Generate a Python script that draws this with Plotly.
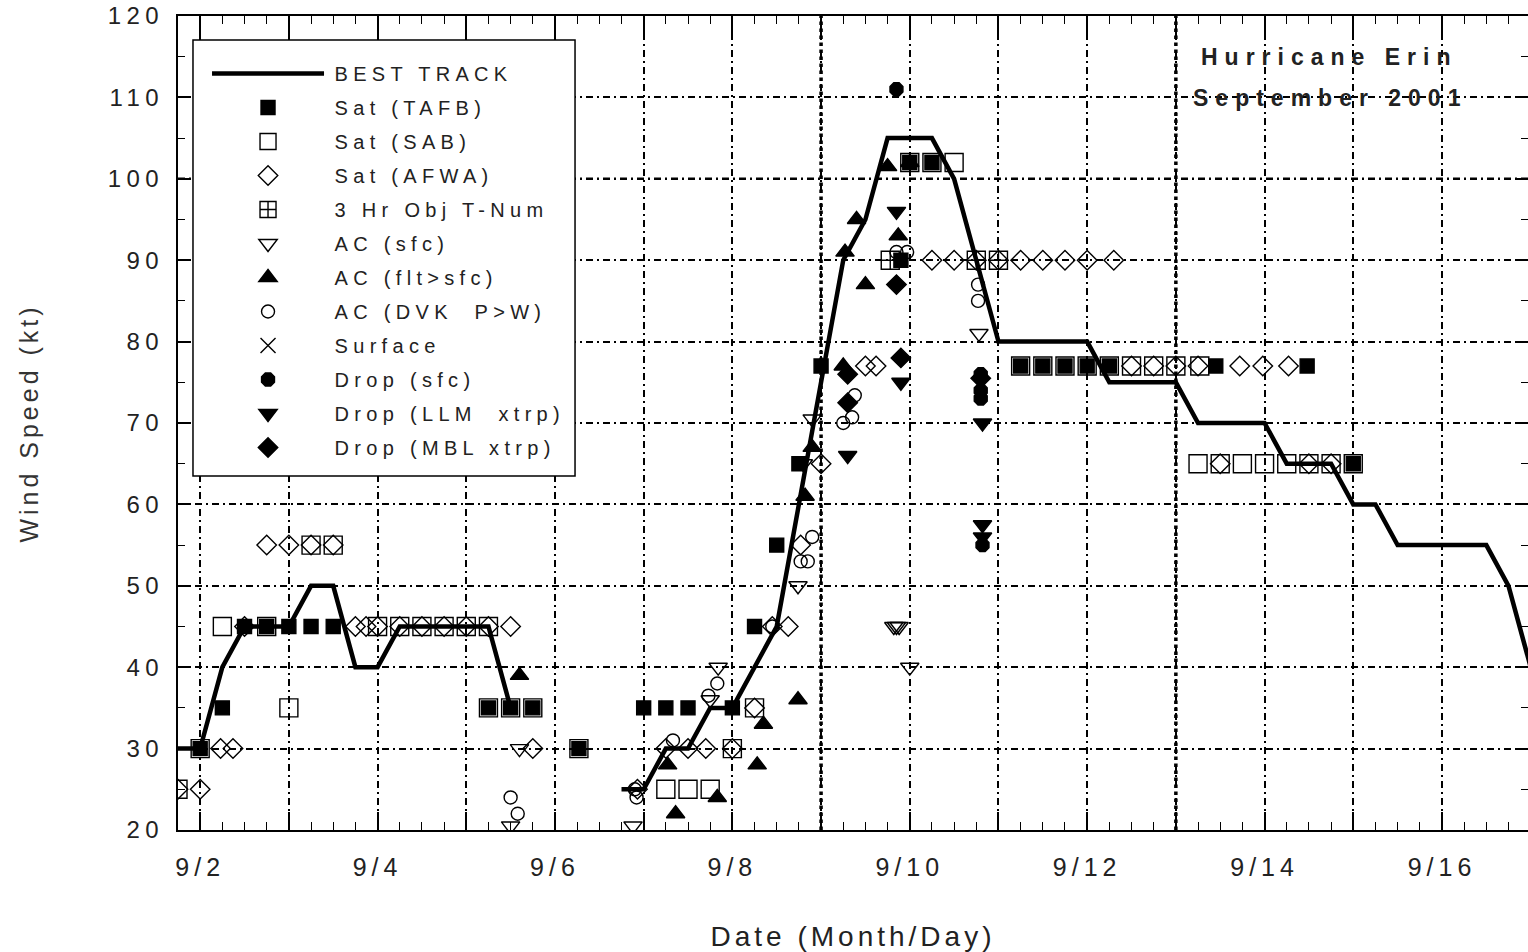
import plotly.graph_objects as go

# ---------------- data (day of September, wind speed in kt) ----------------
bt_day = [1.5, 2.0, 2.25, 2.5, 3.0, 3.25, 3.5, 3.75, 4.0, 4.25, 5.25, 5.5, None,
          6.75, 7.0, 7.25, 7.5, 7.75, 8.0, 8.5, 8.75, 9.0, 9.25, 9.5, 9.75, 10.25,
          10.5, 10.75, 11.0, 12.0, 12.25, 13.0, 13.25, 14.0, 14.25, 14.75, 15.0,
          15.25, 15.5, 16.5, 16.75, 17.0]
bt_kt = [30, 30, 40, 45, 45, 50, 50, 40, 40, 45, 45, 35, None,
         25, 25, 30, 30, 35, 35, 45, 60, 75, 90, 95, 105, 105,
         100, 90, 80, 80, 75, 75, 70, 70, 65, 65, 60,
         60, 55, 55, 50, 40]

tafb_day = [2.0, 2.25, 2.5, 2.75, 3.0, 3.25, 3.5, 5.25, 5.5, 5.75, 6.27, 7.0, 7.25,
            7.5, 8.0, 8.25, 8.5, 8.75, 9.0, 9.9, 10.0, 10.25, 11.25, 11.5, 11.75,
            12.0, 12.25, 13.45, 14.48, 15.0]
tafb_kt = [30, 35, 45, 45, 45, 45, 45, 35, 35, 35, 30, 35, 35,
           35, 35, 45, 55, 65, 77, 90, 102, 102, 77, 77, 77,
           77, 77, 77, 77, 65]

sab_day = [1.75, 2.0, 2.25, 2.75, 3.0, 3.25, 3.5, 4.0, 4.25, 4.5, 4.75, 5.0, 5.25,
           5.25, 5.5, 5.75, 6.27, 7.25, 7.5, 7.75, 8.0, 8.25, 10.0, 10.25, 10.5,
           11.25, 11.5, 11.75, 12.0, 12.25, 12.5, 12.75, 13.0, 13.27,
           13.25, 13.5, 13.75, 14.0, 14.25, 14.5, 14.75, 15.0]
sab_kt = [25, 30, 45, 45, 35, 55, 55, 45, 45, 45, 45, 45, 45,
          35, 35, 35, 30, 25, 25, 25, 30, 35, 102, 102, 102,
          77, 77, 77, 77, 77, 77, 77, 77, 77,
          65, 65, 65, 65, 65, 65, 65, 65]

afwa_day = [1.75, 2.0, 2.23, 2.37, 2.5, 2.75, 3.0, 3.25, 3.5, 3.75, 3.87, 4.0, 4.25,
            4.5, 4.75, 5.0, 5.25, 5.5, 5.75, 6.93, 7.25, 7.5, 7.7, 8.0, 8.25, 8.45,
            8.63, 8.77, 9.0, 9.5, 9.62, 10.25, 10.5, 10.75, 11.0, 11.25, 11.5,
            11.75, 12.0, 12.3, 12.5, 12.75, 13.0, 13.25, 13.72, 13.98, 14.27,
            13.5, 14.5, 14.75]
afwa_kt = [25, 25, 30, 30, 45, 55, 55, 55, 55, 45, 45, 45, 45,
           45, 45, 45, 45, 45, 30, 25, 30, 30, 30, 30, 35, 45,
           45, 55, 65, 77, 77, 90, 90, 90, 90, 90, 90,
           90, 90, 90, 77, 77, 77, 77, 77, 77, 77,
           65, 65, 65]

tnum_day = [9.78, 10.75, 11.0]
tnum_kt = [90, 90, 90]

acsfc_day = [5.5, 5.6, 6.88, 7.75, 7.84, 8.74, 8.8, 8.9, 9.82, 9.85, 9.88, 10.0, 10.78]
acsfc_kt = [20.5, 30, 20.5, 36, 40, 50, 65, 70.5, 45, 45, 45, 40, 81]

acflt_day = [5.6, 7.27, 7.36, 7.83, 8.28, 8.35, 8.74, 8.82, 8.9, 9.25, 9.27, 9.4,
             9.5, 9.75, 9.87, 10.0]
acflt_kt = [39, 28, 22, 24, 28, 33, 36, 61, 67, 77, 91, 95,
            87, 101.5, 93, 102]

acdvk_day = [5.5, 5.58, 6.9, 6.92, 7.33, 7.73, 7.83, 8.45, 8.77, 8.85, 8.9, 9.25,
             9.35, 9.38, 9.85, 9.97, 10.77, 10.77]
acdvk_kt = [24, 22, 25, 24, 31, 36.5, 38, 45, 53, 53, 56, 70,
            70.7, 73.4, 91, 91, 87, 85]

surf_day = [None]
surf_kt = [None]

dsfc_day = [9.85, 10.8, 10.8, 10.8, 10.82]
dsfc_kt = [111, 76, 74, 73, 55]

dllm_day = [9.3, 9.85, 9.9, 10.82, 10.82, 10.82]
dllm_kt = [66, 96, 75, 70, 57.5, 56]

dmbl_day = [9.3, 9.3, 9.85, 9.9, 10.8]
dmbl_kt = [72.5, 76, 87, 78, 75.5]

x_tick_days = list(range(2, 17))
x_tick_labels = ["9/2", "", "9/4", "", "9/6", "", "9/8", "", "9/10", "", "9/12", "",
                 "9/14", "", "9/16"]
y_tick_vals = [20, 30, 40, 50, 60, 70, 80, 90, 100, 110, 120]
y_tick_labels = ["20", "30", "40", "50", "60", "70", "80", "90", "100", "110", "120"]

# ---------------- figure ----------------
FONT = "Liberation Sans, Arial, sans-serif"
GRID_DASH = "7px,4px,2px,4px"


def spaced(text, sp):
    return f'<span style="letter-spacing:{sp}px">{text}</span>'


def legend_name(text):
    return "&nbsp;" + spaced(text, 5.3)


fig = go.Figure()

fig.add_trace(go.Scatter(x=bt_day, y=bt_kt, mode="lines", name=legend_name("BEST TRACK"),
                         legendgroup="g0",
                         line=dict(color="black", width=4.5), connectgaps=False))

_gid = [0]


def add_markers(xs, ys, name, symbol, size, lw=1.4):
    _gid[0] += 1
    fig.add_trace(go.Scatter(
        x=xs, y=ys, mode="markers", name=legend_name(name),
        legendgroup=f"g{_gid[0]}",
        marker=dict(symbol=symbol, size=size, color="black",
                    line=dict(color="black", width=lw))))


add_markers(tafb_day, tafb_kt, "Sat (TAFB)", "square", 14)
add_markers(sab_day, sab_kt, "Sat (SAB)", "square-open", 18)
add_markers(afwa_day, afwa_kt, "Sat (AFWA)", "diamond-open", 15)
add_markers(tnum_day, tnum_kt, "3 Hr Obj T-Num", "square-cross-open", 18)
add_markers(acsfc_day, acsfc_kt, "AC (sfc)", "triangle-down-open", 16)
add_markers(acflt_day, acflt_kt, "AC (flt&gt;sfc)", "triangle-up", 16)
add_markers(acdvk_day, acdvk_kt, "AC (DVK  P&gt;W)", "circle-open", 13)
add_markers(surf_day, surf_kt, "Surface", "x-thin-open", 15)
add_markers(dsfc_day, dsfc_kt, "Drop (sfc)", "octagon", 14)
add_markers(dllm_day, dllm_kt, "Drop (LLM  xtrp)", "triangle-down", 16)
add_markers(dmbl_day, dmbl_kt, "Drop (MBL xtrp)", "diamond", 15)

# heavier reference lines
fig.add_vline(x=9, line=dict(color="black", width=3.5, dash="dot"), layer="below")
fig.add_vline(x=13, line=dict(color="black", width=3.5, dash="dot"), layer="below")
fig.add_hline(y=100, line=dict(color="black", width=2.6, dash=GRID_DASH), layer="below")

# opaque legend frame
fig.add_shape(type="rect", xref="paper", yref="paper",
              x0=0.0111, x1=0.2941, y0=0.4349, y1=0.9705,
              line=dict(color="black", width=1.5), fillcolor="white", layer="above")

fig.update_xaxes(
    range=[1.75, 16.97], showline=True, linecolor="black", linewidth=2, mirror="ticks",
    tickmode="array", tickvals=x_tick_days,
    ticktext=[spaced(t, 5) for t in x_tick_labels],
    ticks="inside", ticklen=18, tickwidth=1.5, tickcolor="black",
    ticklabelstandoff=14,
    minor=dict(dtick=0.25, tick0=0, ticks="inside", ticklen=8, tickwidth=1.2,
               tickcolor="black", showgrid=False),
    showgrid=True, gridcolor="black", gridwidth=1.8, griddash=GRID_DASH,
    zeroline=False, tickfont=dict(family=FONT, size=25, color="#222"),
    title=dict(text=spaced("Date (Month/Day)", 4),
               font=dict(family=FONT, size=28, color="#222"), standoff=49),
    automargin=False)

fig.update_yaxes(
    range=[20, 120], showline=True, linecolor="black", linewidth=2, mirror="ticks",
    tickmode="array", tickvals=y_tick_vals,
    ticktext=[spaced(t, 5.5) for t in y_tick_labels],
    ticks="inside", ticklen=12, tickwidth=1.5, tickcolor="black",
    ticklabelstandoff=7,
    minor=dict(dtick=5, tick0=0, ticks="inside", ticklen=7, tickwidth=1.2,
               tickcolor="black", showgrid=False),
    showgrid=True, gridcolor="black", gridwidth=1.8, griddash=GRID_DASH,
    zeroline=False, tickfont=dict(family=FONT, size=24, color="#222"),
    title=dict(text=spaced("Wind Speed (kt)", 4),
               font=dict(family=FONT, size=25, color="#333"), standoff=62),
    automargin=False)

fig.add_annotation(xref="paper", yref="paper", x=0.853, y=0.9496, showarrow=False,
                   xanchor="center", yanchor="middle",
                   text="<b>" + spaced("Hurricane Erin", 7) + "</b>",
                   font=dict(family=FONT, size=23, color="#222"))
fig.add_annotation(xref="paper", yref="paper", x=0.853, y=0.8993, showarrow=False,
                   xanchor="center", yanchor="middle",
                   text="<b>" + spaced("September 2001", 7) + "</b>",
                   font=dict(family=FONT, size=23, color="#222"))

fig.update_layout(
    width=1528, height=952,
    margin=dict(l=178, r=0, t=16, b=122),
    plot_bgcolor="white", paper_bgcolor="white",
    legend=dict(x=0.0215, y=0.9533, xanchor="left", yanchor="top",
                bgcolor="rgba(0,0,0,0)", borderwidth=0,
                font=dict(family=FONT, size=20, color="#222"),
                itemwidth=112, tracegroupgap=5),
)

fig.write_html("out.html", config={"displayModeBar": False},
               post_script="document.body.style.margin='0';document.body.style.overflow='hidden';")
